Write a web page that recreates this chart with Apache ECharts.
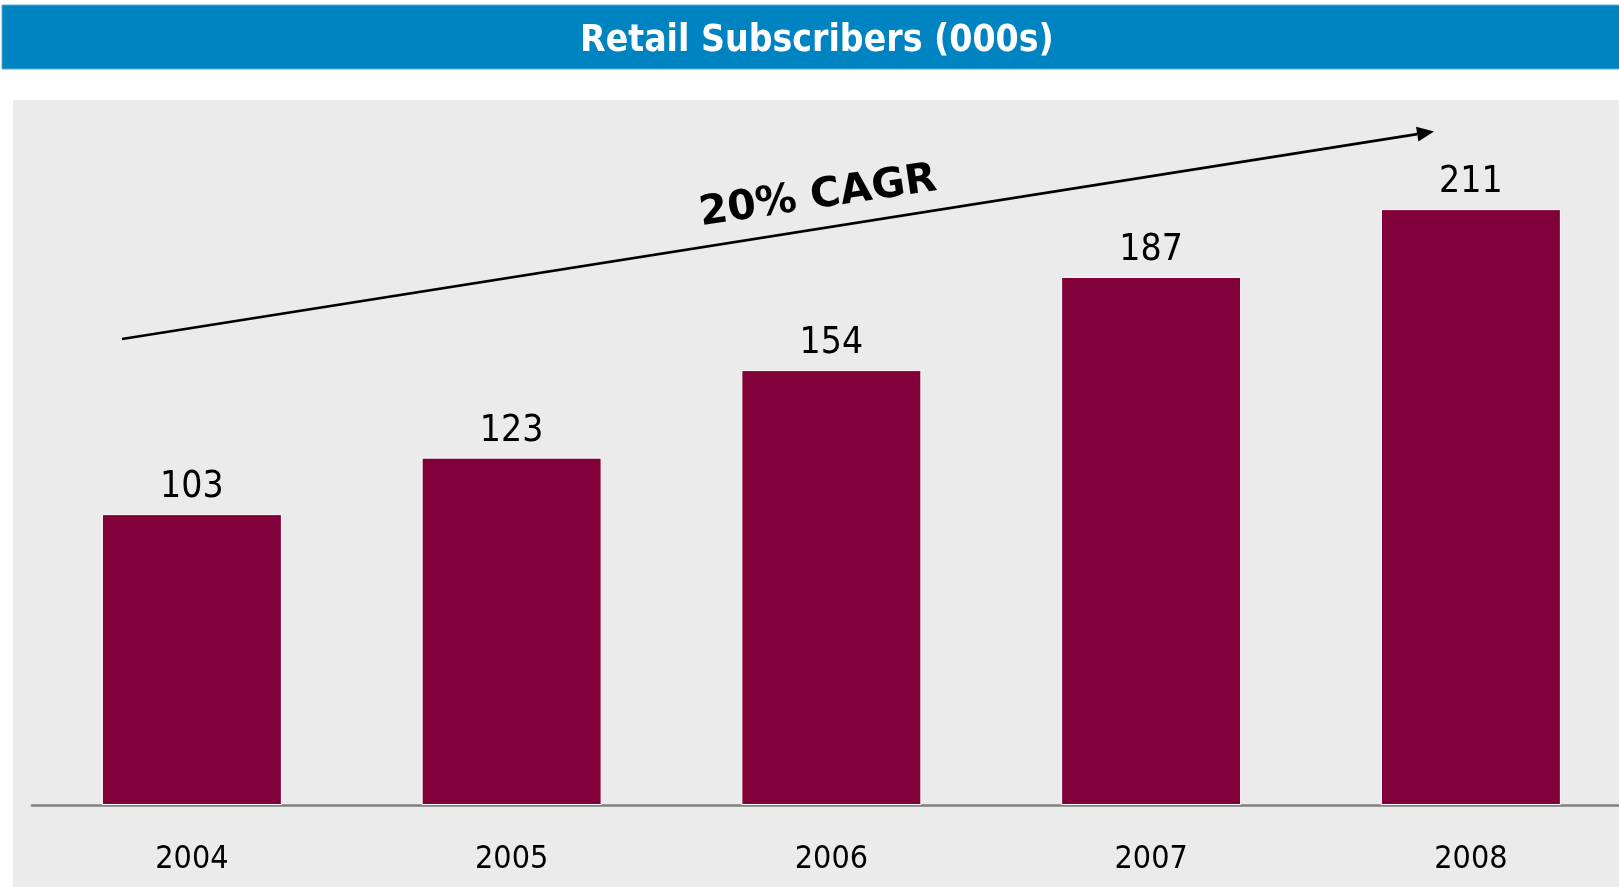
<!DOCTYPE html>
<html>
<head>
<meta charset="utf-8">
<style>
  html, body { margin: 0; padding: 0; background: #ffffff; }
  #chart { width: 1619px; height: 887px; }
</style>
<script src="https://cdn.jsdelivr.net/npm/echarts@6/dist/echarts.min.js"></script>
</head>
<body>
<div id="chart"></div>
<script>
const titleText = 'Retail Subscribers (000s)';
const categories = ['2004', '2005', '2006', '2007', '2008'];
const subscribers = [103, 123, 154, 187, 211];
const cagrText = '20% CAGR';

const FONT = "'DejaVu Sans Condensed', 'DejaVu Sans', sans-serif";

const chart = echarts.init(document.getElementById('chart'), null, { renderer: 'canvas' });

// arrow geometry (annotation)
const a0 = [122, 339], a1 = [1434, 131.5];
const dx = a1[0] - a0[0], dy = a1[1] - a0[1];
const len = Math.sqrt(dx * dx + dy * dy);
const ux = dx / len, uy = dy / len;
const headLen = 17, headHalf = 7.5;
const bx = a1[0] - ux * headLen, by = a1[1] - uy * headLen;
const px = -uy, py = ux;

chart.setOption({
  backgroundColor: '#ffffff',
  animation: false,
  title: {
    text: titleText,
    left: 580,
    top: 23,
    padding: 0,
    textStyle: {
      color: '#ffffff',
      fontFamily: FONT,
      fontWeight: 'bold',
      fontSize: 37
    },
    z: 10
  },
  graphic: [
    {
      type: 'rect', z: -10, silent: true,
      shape: { x: 2, y: 5, width: 1640, height: 64 },
      style: { fill: '#0083C1', stroke: '#5BAAD8', lineWidth: 1 }
    },
    {
      type: 'rect', z: -10, silent: true,
      shape: { x: 13, y: 100, width: 1640, height: 800 },
      style: { fill: '#EBEBEB' }
    },
    {
      type: 'line', z: 50, silent: true,
      shape: { x1: a0[0], y1: a0[1], x2: bx, y2: by },
      style: { stroke: '#000000', lineWidth: 2.6 }
    },
    {
      type: 'polygon', z: 50, silent: true,
      shape: { points: [[a1[0], a1[1]], [bx + px * headHalf, by + py * headHalf], [bx - px * headHalf, by - py * headHalf]] },
      style: { fill: '#000000' }
    },
    {
      type: 'text', z: 50, silent: true,
      x: 818, y: 197,
      rotation: 8.5 * Math.PI / 180,
      style: {
        text: cagrText,
        fill: '#000000',
        font: "bold 41px 'DejaVu Sans', sans-serif",
        align: 'center',
        verticalAlign: 'middle'
      }
    }
  ],
  grid: {
    left: 32,
    right: -11.75,
    top: 99,
    bottom: 82,
    containLabel: false,
    outerBoundsMode: 'none'
  },
  xAxis: {
    type: 'category',
    data: categories,
    axisLine: { show: true, lineStyle: { color: '#808080', width: 2.5 } },
    axisTick: { show: false },
    axisLabel: {
      color: '#000000',
      fontFamily: FONT,
      fontSize: 32,
      margin: 39
    },
    splitLine: { show: false }
  },
  yAxis: {
    type: 'value',
    min: 0,
    max: 250,
    show: false,
    splitLine: { show: false }
  },
  series: [{
    type: 'bar',
    data: subscribers,
    barWidth: 180,
    itemStyle: {
      color: '#82003A',
      borderColor: '#ffffff',
      borderWidth: 1
    },
    label: {
      show: true,
      position: 'top',
      distance: 8,
      color: '#000000',
      fontFamily: FONT,
      fontSize: 37
    }
  }]
});
</script>
</body>
</html>
